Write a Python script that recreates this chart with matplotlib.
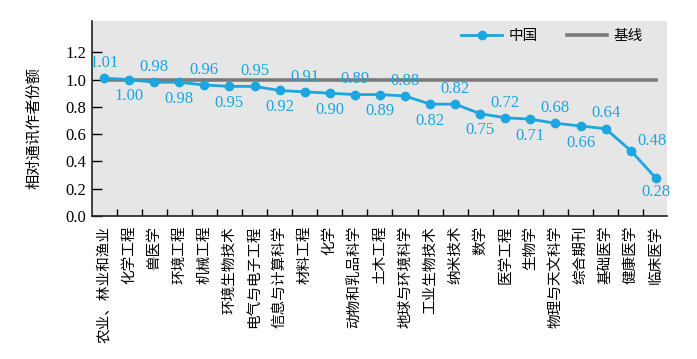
import matplotlib
matplotlib.use('Agg')
import matplotlib.pyplot as plt
import numpy as np

# data
categories = ['农业、林业和渔业', '化学工程', '兽医学', '环境工程', '机械工程',
              '环境生物技术', '电气与电子工程', '信息与计算科学', '材料工程', '化学',
              '动物和乳品科学', '土木工程', '地球与环境科学', '工业生物技术', '纳米技术',
              '数学', '医学工程', '生物学', '物理与天文科学', '综合期刊',
              '基础医学', '健康医学', '临床医学']
china = [1.01, 1.00, 0.98, 0.98, 0.96, 0.95, 0.95, 0.92, 0.91, 0.90, 0.89, 0.89,
         0.88, 0.82, 0.82, 0.75, 0.72, 0.71, 0.68, 0.66, 0.64, 0.48, 0.28]
baseline = [1.0] * len(categories)
yticks = [0.0, 0.2, 0.4, 0.6, 0.8, 1.0, 1.2]

blue = '#1ba6df'
grey = '#7a7a7a'
cjk = ['Noto Sans CJK SC', 'DejaVu Sans']
serif = ['Liberation Serif', 'DejaVu Serif']

fig = plt.figure(figsize=(6.97, 3.59), dpi=100)
ax = fig.add_axes([0.132, 0.398, 0.825, 0.544])
ax.set_facecolor('#e6e6e6')

x = np.arange(len(categories))
ax.plot(x, baseline, color=grey, lw=2.6, label='基线', zorder=2)
ax.plot(x, china, color=blue, lw=2, marker='o', ms=6, label='中国', zorder=3)

# value labels alternate above / below the line, the last two break the pattern
for i, v in enumerate(china):
    above = (i % 2 == 0)
    dx, dy = 0, (11 if above else -12)
    if i == len(china) - 2:
        dx, dy = 15, 7
    elif i == len(china) - 1:
        dy = -10
    ax.annotate(f'{v:.2f}', (x[i], v), xytext=(dx, dy), textcoords='offset points',
                ha='center', va='center', color=blue, fontsize=12, family=serif)

ax.set_xlim(-0.48, len(categories) - 0.55)
ax.set_ylim(0, 1.43)
ax.set_yticks(yticks)
ax.set_yticklabels([f'{t:.1f}' for t in yticks], family=serif, fontsize=12)
ax.tick_params(axis='y', direction='in', length=7, width=1, pad=4)

ax.set_xticks(x)
ax.set_xticklabels(categories, family=cjk, fontsize=10.5, rotation=90,
                   ha='center', va='top')
ax.set_xticks(x[:-1] + 0.5, minor=True)
ax.tick_params(axis='x', which='major', length=0, pad=7)
ax.tick_params(axis='x', which='minor', direction='in', length=5, width=1)

for s in ['top', 'right']:
    ax.spines[s].set_visible(False)
for s in ['left', 'bottom']:
    ax.spines[s].set_color('#222222')
    ax.spines[s].set_linewidth(1.2)

ax.set_ylabel('相对通讯作者份额', family=cjk, fontsize=11)
ax.yaxis.set_label_coords(-0.087, 0.45)

handles, labels = ax.get_legend_handles_labels()
ax.legend(handles[::-1], labels[::-1], loc='upper right', ncol=2, frameon=False,
          prop={'family': cjk, 'size': 10.5}, handlelength=2.8, handletextpad=0.4,
          columnspacing=2.0, borderpad=0.2, bbox_to_anchor=(0.975, 1.01))

fig.savefig('out.png', dpi=100)
